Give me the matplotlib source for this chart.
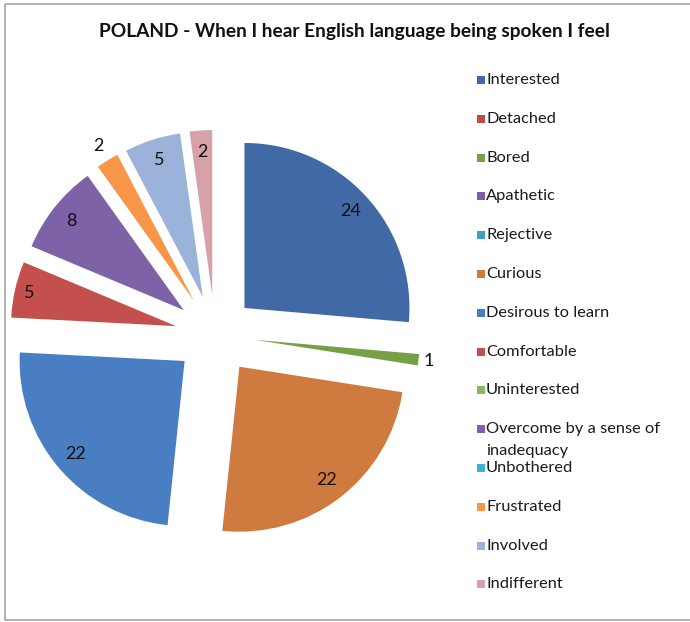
import numpy as np
import matplotlib
matplotlib.use("Agg")
import matplotlib.pyplot as plt
from matplotlib.patches import Rectangle

plt.rcParams['font.family'] = ['Lato', 'DejaVu Sans']

title = "POLAND - When I hear English language being spoken I feel"
categories = ["Interested", "Detached", "Bored", "Apathetic", "Rejective", "Curious",
              "Desirous to learn", "Comfortable", "Uninterested",
              "Overcome by a sense of\ninadequacy", "Unbothered", "Frustrated",
              "Involved", "Indifferent"]
values = [24, 0, 1, 0, 0, 22, 22, 5, 0, 8, 0, 2, 5, 2]
colors = ["#4069A6", "#BE4B48", "#77A046", "#7A5FA3", "#3AA3BF", "#CF7A3E",
          "#4A7EC3", "#C4504E", "#8CB95A", "#7E62A8", "#3BB2D2", "#F79646",
          "#9BB2DA", "#D6A1A8"]

W, H = 690, 622
fig = plt.figure(figsize=(W / 100, H / 100), dpi=100)
fig.patch.set_facecolor("white")

# background layer in pixel coordinates (frame + legend)
bg = fig.add_axes([0, 0, 1, 1])
bg.set_xlim(0, W)
bg.set_ylim(H, 0)
bg.axis("off")
bg.add_patch(Rectangle((5, 4), W + 10, 616, fill=False, edgecolor="#A6A6A6", lw=1.2))

# pie axes: centre at (215, 335) px, radius 165 px
cx, cy, r_px, half = 215, 335, 165, 215
ax = fig.add_axes([(cx - half) / W, (H - cy - half) / H, 2 * half / W, 2 * half / H])
ax.axis("off")

explode = [0.2424 if v > 0 else 0 for v in values]
wedges, _ = ax.pie(values, colors=colors, explode=explode, startangle=90,
                   counterclock=False, radius=1.0, wedgeprops=dict(linewidth=0))
lim = half / r_px
ax.set_xlim(-lim, lim)
ax.set_ylim(-lim, lim)
ax.set_aspect("equal")

label_dist = {"Bored": 1.06, "Frustrated": 1.10, "Comfortable": 0.91}
for w, cat, v in zip(wedges, categories, values):
    if v == 0:
        continue
    mid = np.deg2rad((w.theta1 + w.theta2) / 2)
    d = label_dist.get(cat, 0.87)
    x0, y0 = w.center
    ax.text(x0 + d * np.cos(mid), y0 + d * np.sin(mid), str(v),
            ha="center", va="center", fontsize=13, color="#111111")

fig.text(354 / W, 1 - 32 / H, title, ha="center", va="center",
         fontsize=13.8, fontweight="bold", color="#111111")

# legend
y0, step = 80, 38.8
for i, (cat, col) in enumerate(zip(categories, colors)):
    y = y0 + i * step
    bg.add_patch(Rectangle((477, y - 4), 8, 8, facecolor=col, edgecolor="none"))
    for j, line in enumerate(cat.split("\n")):
        bg.text(486, y + j * 22, line, ha="left", va="center",
                fontsize=11.8, color="#1A1A1A")

fig.savefig("out.png", dpi=100)
